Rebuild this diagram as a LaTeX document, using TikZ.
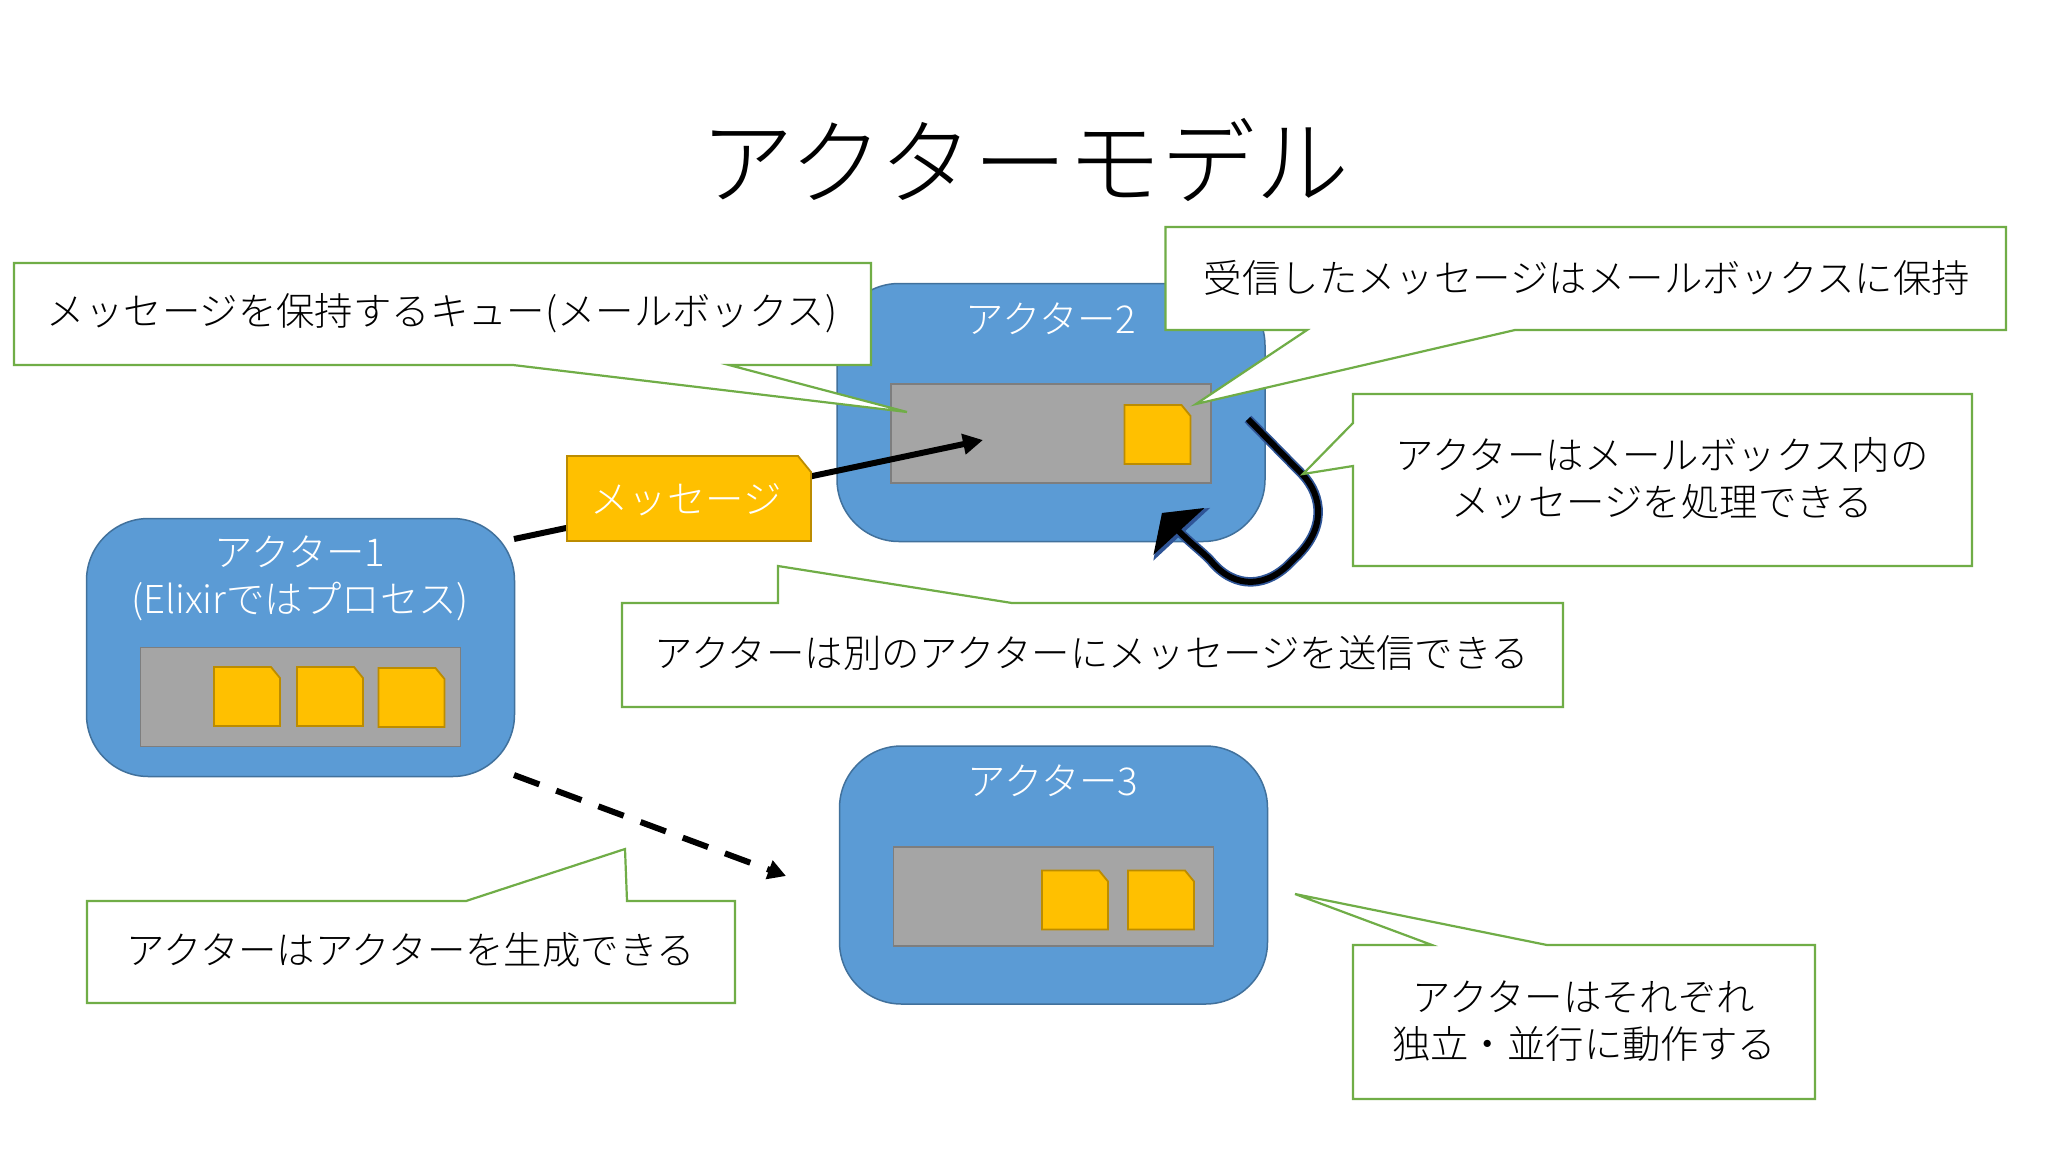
\documentclass[tikz,border=0pt]{standalone}
\usepackage{fontspec}
\setmainfont{Noto Sans CJK JP Light}
\usetikzlibrary{arrows.meta,bending}
\definecolor{actorfill}{HTML}{5B9BD5}
\definecolor{actorline}{HTML}{41719C}
\definecolor{queuefill}{HTML}{A5A5A5}
\definecolor{queueline}{HTML}{7E7E7E}
\definecolor{msgfill}{HTML}{FFC000}
\definecolor{msgline}{HTML}{BC8C00}
\definecolor{callgreen}{HTML}{70AD47}
\definecolor{loopline}{HTML}{2F5597}
\tikzset{
  actor/.style={draw=actorline,fill=actorfill,line width=1.5pt,rounded corners=62pt,minimum width=428pt,minimum height=258pt,outer sep=0pt,inner sep=0pt},
  queue/.style={draw=queueline,fill=queuefill,line width=1.8pt,minimum width=320pt,minimum height=99pt,outer sep=0pt,inner sep=0pt},
  msg/.style={draw=msgline,fill=msgfill,line width=1.8pt,line join=miter},
  call/.style={draw=callgreen,fill=white,line width=2.2pt,line join=miter},
  txt/.style={text=black,font=\fontsize{38.4}{47}\selectfont,align=center,inner sep=0pt},
  wtxt/.style={txt,text=white},
  send/.style={draw=black,line width=6pt,-{Triangle[length=20pt,width=20pt]}},
  spawn/.style={draw=black,line width=6pt,dash pattern=on 27pt off 18pt,-{Triangle[length=18pt,width=19pt]}},
}
% small message card: left, top
\newcommand{\msgcard}[2]{\draw[msg] (#1,#2) -- ++(57,0) -- ++(9,11) -- ++(0,48) -- ++(-66,0) -- cycle;}
\begin{document}
\begin{tikzpicture}[x=1pt,y=-1pt]
\useasboundingbox (0,0) rectangle (2048,1152);
\fill[white] (0,0) rectangle (2048,1152);

\node[font=\fontsize{93.9}{100}\selectfont,inner sep=0pt] (title) at (1025,159.5) {アクターモデル};

% actor 2
\node[actor] (actor2) at (1051,412.5) {};
\node[queue] (queue2) at (1051,433.5) {};
\msgcard{1124.5}{405}
\node[wtxt] (label2) at (1051,319) {アクター2};

% actor 1
\node[actor] (actor1) at (300.5,647.5) {};
\node[queue] (queue1) at (300.5,697) {};
\msgcard{214}{667}
\msgcard{297}{667}
\msgcard{378.5}{668}
\node[wtxt] (label1) at (300,578) {アクター1\\(Elixirではプロセス)};

% actor 3
\node[actor] (actor3) at (1053.5,875) {};
\node[queue] (queue3) at (1053.5,896.5) {};
\msgcard{1042}{870.5}
\msgcard{1128}{870.5}
\node[wtxt] (label3) at (1053,781) {アクター3};

% connectors
\coordinate (sendS) at (514,539);
\coordinate (sendE) at (983,440);
\draw[send] (sendS) -- (sendE);
\draw[msg] (567,456) -- (798,456) -- (811,472) -- (811,541) -- (567,541) -- cycle;
\node[wtxt] (message) at (686,500) {メッセージ};

\coordinate (spawnS) at (514,775);
\coordinate (spawnE) at (786,876);
\draw[spawn] (spawnS) -- (spawnE);

\coordinate (loopS) at (1248,419);
\coordinate (loopE) at (1162,513);
\foreach \c/\w/\l/\t in {loopline/9.5/29/76,black/6/25/68}{
  \draw[draw=\c,line width=\w pt,-{Triangle[length=\l pt,width=\t pt,color=\c]}]
    (loopS) -- (1302,474) .. controls (1323,496) and (1327,530) .. (1293,560)
    .. controls (1268,588) and (1235,590) .. (1211,561)
    .. controls (1200,549) and (1186,541) .. (loopE);
}

% callouts
\draw[call] (14,263) -- (871,263) -- (871,365) -- (729,365) -- (907,412) -- (513,365) -- (14,365) -- cycle;
\node[txt] (tA) at (442,313.5) {メッセージを保持するキュー(メールボックス)};

\draw[call] (1165.5,227) -- (2006,227) -- (2006,330) -- (1515,330) -- (1196,404) -- (1307,330) -- (1165.5,330) -- cycle;
\node[txt] (tB) at (1587,277.5) {受信したメッセージはメールボックスに保持};

\draw[call] (1353,394) -- (1972,394) -- (1972,566) -- (1353,566) -- (1353,466) -- (1303,474) -- (1353,423) -- cycle;
\node[txt] (tC) at (1662,478) {アクターはメールボックス内の\\メッセージを処理できる};

\draw[call] (622,603) -- (778,603) -- (778,566) -- (1012,603) -- (1563,603) -- (1563,707) -- (622,707) -- cycle;
\node[txt] (tD) at (1092,653) {アクターは別のアクターにメッセージを送信できる};

\draw[call] (87,901) -- (466,901) -- (625,849) -- (627,901) -- (735,901) -- (735,1003) -- (87,1003) -- cycle;
\node[txt] (tE) at (411,950) {アクターはアクターを生成できる};

\draw[call] (1353,945) -- (1432,945) -- (1295,894) -- (1547,945) -- (1815,945) -- (1815,1099) -- (1353,1099) -- cycle;
\node[txt] (tF) at (1584,1021.5) {アクターはそれぞれ\\独立・並行に動作する};
\end{tikzpicture}
\end{document}
